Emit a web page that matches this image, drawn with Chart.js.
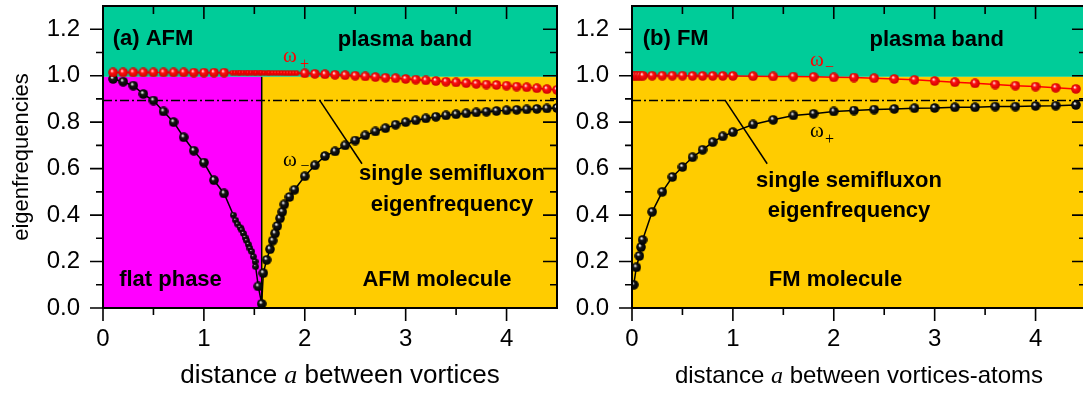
<!DOCTYPE html>
<html><head><meta charset="utf-8">
<script src="https://cdn.jsdelivr.net/npm/chart.js@4"></script>
<style>
html,body{margin:0;padding:0;background:#fff;overflow:hidden;width:1083px;height:394px;}
#wrap{position:relative;width:1083px;height:394px;overflow:hidden;}
#c1{position:absolute;left:0;top:0;width:565px;height:394px;}
#c2{position:absolute;left:565px;top:0;width:535px;height:394px;}
</style></head><body>
<div id="wrap"><canvas id="c1" width="565" height="394"></canvas><canvas id="c2" width="535" height="394"></canvas></div>
<script>
// ---------- data: panel (a) AFM ----------
const afmPlusX = [0.1,0.2,0.3,0.4,0.5,0.6,0.7,0.8,0.9,1.0,1.1,1.2,2.0,2.1,2.2,2.3,2.4,2.5,2.6,2.7,2.8,2.9,3.0,3.1,3.2,3.3,3.4,3.5,3.6,3.7,3.8,3.9,4.0,4.1,4.2,4.3,4.4,4.5];
const afmPlusY = [1.014,1.014,1.014,1.014,1.014,1.014,1.014,1.014,1.013,1.013,1.013,1.013,1.010,1.008,1.006,1.004,1.002,1.000,0.997,0.994,0.991,0.989,0.986,0.983,0.980,0.977,0.974,0.971,0.968,0.965,0.962,0.960,0.957,0.953,0.950,0.946,0.942,0.939];
const afmPlusDenseX = [1.28,1.31,1.34,1.36,1.39,1.42,1.44,1.47,1.50,1.52,1.55,1.57,1.60,1.63,1.65,1.68,1.71,1.74,1.77,1.80,1.83,1.86,1.89,1.92];
const afmPlusDenseY = [1.013,1.013,1.013,1.013,1.013,1.013,1.013,1.013,1.013,1.013,1.013,1.013,1.012,1.012,1.012,1.012,1.012,1.012,1.012,1.011,1.011,1.011,1.011,1.011];
const afmMinusX = [0.1,0.2,0.3,0.4,0.5,0.6,0.7,0.8,0.9,1.0,1.1,1.2,1.539,1.573,1.589,1.622,1.655,1.682,1.705,1.728,1.754,1.777,1.797,1.848,1.898,2.0,2.1,2.2,2.3,2.4,2.5,2.6,2.7,2.8,2.9,3.0,3.1,3.2,3.3,3.4,3.5,3.6,3.7,3.8,3.9,4.0,4.1,4.2,4.3,4.4,4.5];
const afmMinusY = [0.986,0.974,0.957,0.921,0.893,0.846,0.800,0.735,0.677,0.626,0.550,0.493,0.093,0.018,0.150,0.207,0.253,0.290,0.321,0.353,0.386,0.414,0.446,0.478,0.509,0.567,0.614,0.654,0.674,0.700,0.721,0.743,0.760,0.774,0.789,0.800,0.808,0.816,0.823,0.829,0.834,0.838,0.842,0.845,0.848,0.851,0.853,0.855,0.857,0.859,0.861];
const afmMinusDenseX = [1.292,1.315,1.335,1.358,1.375,1.391,1.408,1.424,1.440,1.457,1.474,1.490,1.507,1.513];
const afmMinusDenseY = [0.400,0.378,0.361,0.347,0.336,0.321,0.304,0.290,0.274,0.257,0.243,0.221,0.200,0.178];
// ---------- data: panel (b) FM ----------
const fmMinusX = [0.01,0.033,0.056,0.082,0.108,0.2,0.3,0.4,0.5,0.6,0.7,0.8,0.9,1.0,1.2,1.4,1.6,1.8,2.0,2.2,2.4,2.6,2.8,3.0,3.2,3.4,3.6,3.8,4.0,4.2,4.4];
const fmMinusY = [1.0,1.0,1.0,1.0,1.0,1.0,1.0,1.0,1.0,0.999,0.999,0.999,0.999,0.999,0.998,0.997,0.996,0.995,0.993,0.992,0.989,0.986,0.982,0.977,0.972,0.967,0.962,0.957,0.953,0.948,0.943];
const fmPlusX = [0.017,0.043,0.073,0.089,0.105,0.2,0.3,0.4,0.5,0.6,0.7,0.8,0.9,1.0,1.2,1.4,1.6,1.8,2.0,2.2,2.4,2.6,2.8,3.0,3.2,3.4,3.6,3.8,4.0,4.2,4.4];
const fmPlusY = [0.100,0.175,0.224,0.262,0.293,0.414,0.500,0.564,0.607,0.649,0.681,0.714,0.739,0.757,0.790,0.810,0.829,0.836,0.846,0.850,0.854,0.857,0.860,0.861,0.864,0.864,0.867,0.867,0.870,0.871,0.874];
// ---------- reference lines / regions ----------
const semifluxonLevel = 0.893;
const plasmaEdge = 0.995;
const flatPhaseEdge = 1.573;
const afmLeaderX = [2.15, 2.567], afmLeaderY = [0.893, 0.621];
const fmLeaderX = [0.925, 1.34], fmLeaderY = [0.893, 0.621];
// ---------- axes ----------
const xTickValues = [0,1,2,3,4];
const xMinorValues = [0.5,1.5,2.5,3.5];
const yTickValues = [0,0.2,0.4,0.6,0.8,1.0,1.2];
const yMinorValues = [0.1,0.3,0.5,0.7,0.9,1.1];
const xRange = [0, 4.5], yRange = [0, 1.3];

const SANS = '"Liberation Sans", Arial, sans-serif';
const SERIF = '"Liberation Serif", "Times New Roman", serif';
const TEAL = '#00cc99', YELLOW = '#ffcc00', MAGENTA = '#ff00ff';

function sphere(d, hi, base, dark, hiStop) {
  const c = document.createElement('canvas'); c.width = c.height = d;
  const g = c.getContext('2d'); const r = d / 2;
  const grad = g.createRadialGradient(r * 0.72, r * 0.62, 0, r, r, r);
  grad.addColorStop(0, '#ffffff');
  grad.addColorStop(hiStop, hi);
  grad.addColorStop(hiStop * 2.3, base);
  grad.addColorStop(1, dark);
  g.fillStyle = grad; g.beginPath(); g.arc(r, r, r - 0.2, 0, Math.PI * 2); g.fill();
  return c;
}
const redBig = sphere(10, '#ffb0b0', '#ff1010', '#c80000', 0.16);
const redSmall = sphere(6, '#ff8080', '#ff0000', '#d00000', 0.1);
const blackBig = sphere(10, '#cccccc', '#151515', '#000000', 0.16);
const blackSmall = sphere(7, '#bbbbbb', '#151515', '#000000', 0.12);

const pts = (xs, ys) => xs.map((x, i) => ({x, y: ys[i]}));
const merged = (a, b) => a.concat(b).sort((p, q) => p.x - q.x);

function lineDS(data, color, width, dash, order) {
  return {data, showLine: true, borderColor: color, borderWidth: width, borderDash: dash || [], pointRadius: 0, fill: false, order};
}
function pointDS(data, img, order) {
  return {data, showLine: false, pointStyle: img, pointRadius: 5, order};
}

const panelPlugin = {
  id: 'panel',
  beforeDatasetsDraw(chart, args, o) {
    const {ctx, scales: {x, y}} = chart;
    ctx.save();
    for (const r of o.regions) {
      const x0 = x.getPixelForValue(r.x[0]), x1 = x.getPixelForValue(r.x[1]);
      const y0 = y.getPixelForValue(r.y[0]), y1 = y.getPixelForValue(r.y[1]);
      ctx.fillStyle = r.color; ctx.fillRect(x0, y1, x1 - x0, y0 - y1);
    }
    ctx.restore();
  },
  afterDatasetsDraw(chart, args, o) {
    const {ctx, chartArea: a, scales: {x, y}} = chart;
    ctx.save();
    ctx.strokeStyle = '#000'; ctx.lineWidth = 2;
    ctx.strokeRect(a.left, a.top, a.right - a.left, a.bottom - a.top);
    ctx.lineWidth = 1.6; ctx.beginPath();
    for (const v of xTickValues) { const p = x.getPixelForValue(v);
      ctx.moveTo(p, a.bottom); ctx.lineTo(p, a.bottom + 13);
      ctx.moveTo(p, a.top); ctx.lineTo(p, a.top + 13); }
    for (const v of xMinorValues) { const p = x.getPixelForValue(v);
      ctx.moveTo(p, a.bottom); ctx.lineTo(p, a.bottom + 7);
      ctx.moveTo(p, a.top); ctx.lineTo(p, a.top + 8); }
    for (const v of yTickValues) { const p = y.getPixelForValue(v);
      ctx.moveTo(a.left - 13, p); ctx.lineTo(a.left, p);
      ctx.moveTo(a.right - 14, p); ctx.lineTo(a.right, p); }
    for (const v of yMinorValues) { const p = y.getPixelForValue(v);
      ctx.moveTo(a.left - 7, p); ctx.lineTo(a.left, p);
      ctx.moveTo(a.right - 7, p); ctx.lineTo(a.right, p); }
    ctx.stroke();
    ctx.textBaseline = 'alphabetic';
    for (const L of o.labels) {
      ctx.font = L.font; ctx.fillStyle = L.color || '#000'; ctx.textAlign = L.align || 'left';
      ctx.fillText(L.text, x.getPixelForValue(L.x), y.getPixelForValue(L.y));
    }
    const t = o.xTitle;
    let total = 0;
    for (const [s, f] of t.parts) { ctx.font = f; total += ctx.measureText(s).width; }
    let cx = (a.left + a.right) / 2 + t.dx - total / 2;
    ctx.textAlign = 'left'; ctx.fillStyle = '#000';
    for (const [s, f] of t.parts) { ctx.font = f; ctx.fillText(s, cx, t.baseline); cx += ctx.measureText(s).width; }
    ctx.restore();
  }
};

const BOLD = 'bold 22px ' + SANS;
const OMEGA = '21px ' + SERIF;
const SUB = '16px ' + SERIF;

function zeroPad(s) { s.paddingTop = 0; s.paddingBottom = 0; s.paddingLeft = 0; s.paddingRight = 0; }

function makeChart(id, datasets, regions, labels, xTitleParts, dx, yAxisWidth, padRight, yTitle) {
  return new Chart(document.getElementById(id), {
    type: 'scatter',
    data: {datasets},
    plugins: [panelPlugin],
    options: {
      responsive: false, animation: false, events: [],
      layout: {padding: {top: 5, right: padRight, left: 0, bottom: 0}},
      plugins: {legend: {display: false}, tooltip: {enabled: false},
        panel: {regions, labels, xTitle: {parts: xTitleParts, dx, baseline: 383}}},
      scales: {
        x: {type: 'linear', min: xRange[0], max: xRange[1],
          grid: {display: false, drawTicks: false}, border: {display: false},
          ticks: {font: {family: SANS, size: 24}, color: '#000', padding: 17, callback: v => String(v)},
          afterBuildTicks: s => { s.ticks = xTickValues.map(v => ({value: v})); },
          afterFit: s => { s.height = 86; zeroPad(s); }},
        y: {type: 'linear', min: yRange[0], max: yRange[1],
          grid: {display: false, drawTicks: false}, border: {display: false},
          ticks: {font: {family: SANS, size: 24}, color: '#000', padding: 23, callback: v => Number(v).toFixed(1)},
          title: yTitle ? {display: true, text: yTitle, color: '#000', font: {family: SANS, size: 22}, padding: {top: 8.5, bottom: 0}} : {display: false},
          afterBuildTicks: s => { s.ticks = yTickValues.map(v => ({value: v})); },
          afterFit: s => { s.width = yAxisWidth; zeroPad(s); }}
      }
    }
  });
}

const afmPlusAll = merged(pts(afmPlusX, afmPlusY), pts(afmPlusDenseX, afmPlusDenseY));
const afmMinusAll = merged(pts(afmMinusX, afmMinusY), pts(afmMinusDenseX, afmMinusDenseY));

makeChart('c1', [
  pointDS(pts(afmPlusX, afmPlusY), redBig, 1),
  pointDS(pts(afmPlusDenseX, afmPlusDenseY), redSmall, 2),
  pointDS(pts(afmMinusX, afmMinusY), blackBig, 3),
  pointDS(pts(afmMinusDenseX, afmMinusDenseY), blackSmall, 4),
  lineDS(afmPlusAll, '#ff0000', 1.5, null, 5),
  lineDS(afmMinusAll, '#000', 1.5, null, 6),
  lineDS(pts(xRange, [semifluxonLevel, semifluxonLevel]), '#000', 1.5, [9, 3, 2, 3], 7),
  lineDS(pts([flatPhaseEdge, flatPhaseEdge], [0, plasmaEdge]), '#000', 1.5, null, 8),
  lineDS(pts(afmLeaderX, afmLeaderY), '#000', 1.5, null, 9)
], [
  {x: xRange, y: [plasmaEdge, yRange[1]], color: TEAL},
  {x: [0, flatPhaseEdge], y: [0, plasmaEdge], color: MAGENTA},
  {x: [flatPhaseEdge, xRange[1]], y: [0, plasmaEdge], color: YELLOW}
], [
  {text: '(a) AFM', x: 0.096, y: 1.130, font: BOLD},
  {text: 'plasma band', x: 2.993, y: 1.128, font: BOLD, align: 'center'},
  {text: 'single semifluxon', x: 3.459, y: 0.549, font: BOLD, align: 'center'},
  {text: 'eigenfrequency', x: 3.459, y: 0.416, font: BOLD, align: 'center'},
  {text: 'AFM molecule', x: 3.31, y: 0.094, font: BOLD, align: 'center'},
  {text: 'flat phase', x: 0.669, y: 0.094, font: BOLD, align: 'center'},
  {text: 'ω', x: 1.784, y: 1.057, font: OMEGA, color: '#ff0000'},
  {text: '+', x: 1.952, y: 1.030, font: SUB, color: '#ff0000'},
  {text: 'ω', x: 1.784, y: 0.613, font: OMEGA},
  {text: '−', x: 1.957, y: 0.590, font: SUB}
], [['distance ', '26px ' + SANS], ['a', 'italic 26px ' + SERIF], [' between vortices', '26px ' + SANS]], 10, 103, 8, 'eigenfrequencies');

makeChart('c2', [
  pointDS(pts(fmMinusX, fmMinusY), redBig, 1),
  pointDS(pts(fmPlusX, fmPlusY), blackBig, 2),
  lineDS(pts(fmMinusX, fmMinusY), '#ff0000', 1.5, null, 5),
  lineDS(pts(fmPlusX, fmPlusY), '#000', 1.5, null, 6),
  lineDS(pts(xRange, [semifluxonLevel, semifluxonLevel]), '#000', 1.5, [9, 3, 2, 3], 7),
  lineDS(pts(fmLeaderX, fmLeaderY), '#000', 1.5, null, 9)
], [
  {x: xRange, y: [plasmaEdge, yRange[1]], color: TEAL},
  {x: xRange, y: [0, plasmaEdge], color: YELLOW}
], [
  {text: '(b) FM', x: 0.106, y: 1.130, font: BOLD},
  {text: 'plasma band', x: 3.02, y: 1.128, font: BOLD, align: 'center'},
  {text: 'single semifluxon', x: 2.151, y: 0.523, font: BOLD, align: 'center'},
  {text: 'eigenfrequency', x: 2.151, y: 0.390, font: BOLD, align: 'center'},
  {text: 'FM molecule', x: 2.017, y: 0.094, font: BOLD, align: 'center'},
  {text: 'ω', x: 1.764, y: 1.042, font: OMEGA, color: '#ff0000'},
  {text: '−', x: 1.913, y: 1.018, font: SUB, color: '#ff0000'},
  {text: 'ω', x: 1.764, y: 0.735, font: OMEGA},
  {text: '+', x: 1.913, y: 0.708, font: SUB}
], [['distance ', '24px ' + SANS], ['a', 'italic 24px ' + SERIF], [' between vortices-atoms', '24px ' + SANS]], 0, 67, 14, null);
</script>
</body></html>
